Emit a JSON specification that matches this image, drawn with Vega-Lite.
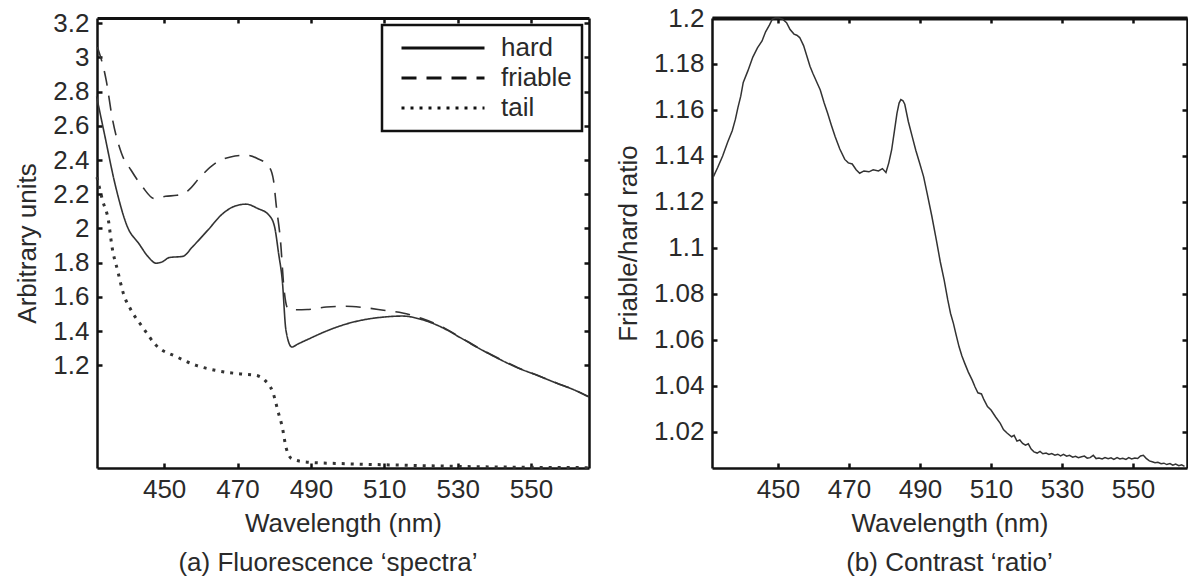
{
  "$schema": "https://vega.github.io/schema/vega-lite/v6.json",
  "background": "white",
  "padding": {"left": 14, "top": 5, "right": 0, "bottom": 0},
  "bounds": "flush",
  "spacing": 123,
  "resolve": {"scale": {"strokeDash": "independent"}, "legend": {"strokeDash": "independent"}},
  "config": {
    "font": "Liberation Sans",
    "view": {"stroke": null},
    "axis": {
      "labelFontSize": 26, "titleFontSize": 26, "titleFontWeight": "normal",
      "labelColor": "#2a2a2a", "titleColor": "#2a2a2a",
      "domainColor": "#111", "tickColor": "#111", "domainWidth": 2.5,
      "tickWidth": 2.5, "tickSize": -5, "labelPadding": 13, "grid": false,
      "labelFont": "Liberation Sans", "titleFont": "Liberation Sans"
    },
    "legend": {
      "title": null, "orient": "top-right", "offset": 7, "symbolType": "stroke",
      "symbolSize": 6889, "symbolStrokeWidth": 3, "symbolStrokeColor": "#111",
      "labelFontSize": 26, "labelColor": "#2a2a2a", "labelFont": "Liberation Sans",
      "clipHeight": 26, "rowPadding": 4, "padding": 10,
      "strokeColor": "#111", "fillColor": "white",
      "symbolOffset": 8, "labelOffset": 15
    },
    "title": {"fontSize": 26, "fontWeight": "normal", "color": "#2a2a2a", "font": "Liberation Sans"}
  },
  "datasets": {
    "spectra": [
      {"series": "hard", "nm": 431.6, "v": 2.77},
      {"series": "hard", "nm": 433.7, "v": 2.555},
      {"series": "hard", "nm": 436.8, "v": 2.243},
      {"series": "hard", "nm": 440.0, "v": 2.009},
      {"series": "hard", "nm": 443.1, "v": 1.912},
      {"series": "hard", "nm": 445.7, "v": 1.833},
      {"series": "hard", "nm": 447.8, "v": 1.797},
      {"series": "hard", "nm": 449.5, "v": 1.805},
      {"series": "hard", "nm": 451.4, "v": 1.83},
      {"series": "hard", "nm": 455.1, "v": 1.837},
      {"series": "hard", "nm": 457.7, "v": 1.892},
      {"series": "hard", "nm": 461.9, "v": 1.99},
      {"series": "hard", "nm": 466.0, "v": 2.087},
      {"series": "hard", "nm": 469.2, "v": 2.13},
      {"series": "hard", "nm": 472.3, "v": 2.142},
      {"series": "hard", "nm": 475.4, "v": 2.118},
      {"series": "hard", "nm": 478.6, "v": 2.077},
      {"series": "hard", "nm": 480.1, "v": 2.01},
      {"series": "hard", "nm": 481.2, "v": 1.853},
      {"series": "hard", "nm": 482.2, "v": 1.697},
      {"series": "hard", "nm": 483.2, "v": 1.405},
      {"series": "hard", "nm": 484.8, "v": 1.307},
      {"series": "hard", "nm": 486.5, "v": 1.325},
      {"series": "hard", "nm": 489.0, "v": 1.35},
      {"series": "hard", "nm": 494.2, "v": 1.4},
      {"series": "hard", "nm": 499.4, "v": 1.44},
      {"series": "hard", "nm": 504.6, "v": 1.467},
      {"series": "hard", "nm": 509.8, "v": 1.482},
      {"series": "hard", "nm": 515.0, "v": 1.488},
      {"series": "hard", "nm": 520.3, "v": 1.467},
      {"series": "hard", "nm": 525.5, "v": 1.424},
      {"series": "hard", "nm": 530.7, "v": 1.362},
      {"series": "hard", "nm": 535.9, "v": 1.298},
      {"series": "hard", "nm": 541.1, "v": 1.239},
      {"series": "hard", "nm": 546.3, "v": 1.186},
      {"series": "hard", "nm": 551.6, "v": 1.142},
      {"series": "hard", "nm": 556.8, "v": 1.097},
      {"series": "hard", "nm": 562.0, "v": 1.054},
      {"series": "hard", "nm": 565.8, "v": 1.015},
      {"series": "friable", "nm": 431.8, "v": 3.06},
      {"series": "friable", "nm": 434.2, "v": 2.867},
      {"series": "friable", "nm": 435.8, "v": 2.652},
      {"series": "friable", "nm": 438.4, "v": 2.438},
      {"series": "friable", "nm": 441.0, "v": 2.34},
      {"series": "friable", "nm": 444.1, "v": 2.243},
      {"series": "friable", "nm": 447.3, "v": 2.175},
      {"series": "friable", "nm": 450.4, "v": 2.188},
      {"series": "friable", "nm": 453.5, "v": 2.194},
      {"series": "friable", "nm": 456.6, "v": 2.223},
      {"series": "friable", "nm": 459.8, "v": 2.3},
      {"series": "friable", "nm": 463.9, "v": 2.38},
      {"series": "friable", "nm": 468.1, "v": 2.418},
      {"series": "friable", "nm": 472.3, "v": 2.428},
      {"series": "friable", "nm": 475.4, "v": 2.409},
      {"series": "friable", "nm": 478.6, "v": 2.36},
      {"series": "friable", "nm": 479.8, "v": 2.282},
      {"series": "friable", "nm": 480.6, "v": 2.126},
      {"series": "friable", "nm": 481.7, "v": 1.931},
      {"series": "friable", "nm": 482.7, "v": 1.64},
      {"series": "friable", "nm": 483.8, "v": 1.53},
      {"series": "friable", "nm": 486.0, "v": 1.525},
      {"series": "friable", "nm": 489.0, "v": 1.526},
      {"series": "friable", "nm": 494.2, "v": 1.541},
      {"series": "friable", "nm": 499.4, "v": 1.545},
      {"series": "friable", "nm": 504.6, "v": 1.537},
      {"series": "friable", "nm": 509.8, "v": 1.522},
      {"series": "friable", "nm": 515.0, "v": 1.506},
      {"series": "friable", "nm": 520.3, "v": 1.473},
      {"series": "friable", "nm": 525.5, "v": 1.428},
      {"series": "friable", "nm": 530.7, "v": 1.365},
      {"series": "friable", "nm": 535.9, "v": 1.3},
      {"series": "friable", "nm": 541.1, "v": 1.241},
      {"series": "friable", "nm": 546.3, "v": 1.188},
      {"series": "friable", "nm": 551.6, "v": 1.143},
      {"series": "friable", "nm": 556.8, "v": 1.098},
      {"series": "friable", "nm": 562.0, "v": 1.055},
      {"series": "friable", "nm": 565.8, "v": 1.016},
      {"series": "tail", "nm": 431.7, "v": 2.3},
      {"series": "tail", "nm": 433.2, "v": 2.165},
      {"series": "tail", "nm": 434.8, "v": 2.048},
      {"series": "tail", "nm": 435.8, "v": 1.892},
      {"series": "tail", "nm": 437.3, "v": 1.756},
      {"series": "tail", "nm": 438.9, "v": 1.619},
      {"series": "tail", "nm": 441.0, "v": 1.522},
      {"series": "tail", "nm": 444.1, "v": 1.424},
      {"series": "tail", "nm": 447.8, "v": 1.317},
      {"series": "tail", "nm": 453.5, "v": 1.249},
      {"series": "tail", "nm": 458.7, "v": 1.2},
      {"series": "tail", "nm": 463.9, "v": 1.171},
      {"series": "tail", "nm": 470.2, "v": 1.151},
      {"series": "tail", "nm": 474.9, "v": 1.142},
      {"series": "tail", "nm": 477.5, "v": 1.112},
      {"series": "tail", "nm": 479.6, "v": 1.044},
      {"series": "tail", "nm": 481.2, "v": 0.918},
      {"series": "tail", "nm": 482.2, "v": 0.839},
      {"series": "tail", "nm": 483.2, "v": 0.722},
      {"series": "tail", "nm": 484.8, "v": 0.654},
      {"series": "tail", "nm": 489.0, "v": 0.634},
      {"series": "tail", "nm": 499.4, "v": 0.625},
      {"series": "tail", "nm": 509.8, "v": 0.619},
      {"series": "tail", "nm": 520.0, "v": 0.614},
      {"series": "tail", "nm": 530.7, "v": 0.609},
      {"series": "tail", "nm": 545.0, "v": 0.605},
      {"series": "tail", "nm": 565.8, "v": 0.602}
    ],
    "ratio": [
      {"nm": 431.8, "r": 1.131}, {"nm": 433.0, "r": 1.135}, {"nm": 434.4, "r": 1.14},
      {"nm": 435.8, "r": 1.146}, {"nm": 437.1, "r": 1.151}, {"nm": 438.0, "r": 1.156},
      {"nm": 438.7, "r": 1.161}, {"nm": 439.5, "r": 1.166}, {"nm": 440.2, "r": 1.172},
      {"nm": 441.5, "r": 1.177}, {"nm": 442.9, "r": 1.183}, {"nm": 444.2, "r": 1.187},
      {"nm": 445.5, "r": 1.19}, {"nm": 446.5, "r": 1.194}, {"nm": 447.6, "r": 1.197},
      {"nm": 448.4, "r": 1.1995}, {"nm": 449.2, "r": 1.2}, {"nm": 450.2, "r": 1.2},
      {"nm": 451.3, "r": 1.1995}, {"nm": 452.4, "r": 1.198}, {"nm": 453.4, "r": 1.195},
      {"nm": 454.5, "r": 1.193}, {"nm": 455.3, "r": 1.1925}, {"nm": 456.1, "r": 1.1915},
      {"nm": 457.2, "r": 1.188}, {"nm": 458.2, "r": 1.183}, {"nm": 459.0, "r": 1.179},
      {"nm": 459.8, "r": 1.176}, {"nm": 460.8, "r": 1.1725}, {"nm": 461.9, "r": 1.1687},
      {"nm": 463.0, "r": 1.163}, {"nm": 464.0, "r": 1.1585}, {"nm": 465.0, "r": 1.1535},
      {"nm": 466.1, "r": 1.1484}, {"nm": 467.4, "r": 1.143}, {"nm": 468.8, "r": 1.1385},
      {"nm": 469.8, "r": 1.137}, {"nm": 470.9, "r": 1.1365}, {"nm": 472.0, "r": 1.134},
      {"nm": 473.0, "r": 1.1325}, {"nm": 474.2, "r": 1.1335}, {"nm": 475.6, "r": 1.1331},
      {"nm": 476.8, "r": 1.134}, {"nm": 478.3, "r": 1.1335}, {"nm": 479.4, "r": 1.1345},
      {"nm": 480.4, "r": 1.1328}, {"nm": 481.2, "r": 1.137}, {"nm": 482.0, "r": 1.1426},
      {"nm": 482.8, "r": 1.151}, {"nm": 483.5, "r": 1.1585}, {"nm": 484.1, "r": 1.163},
      {"nm": 484.6, "r": 1.1645}, {"nm": 485.2, "r": 1.164}, {"nm": 485.7, "r": 1.1625},
      {"nm": 486.7, "r": 1.155}, {"nm": 487.8, "r": 1.1484}, {"nm": 488.8, "r": 1.1425},
      {"nm": 489.9, "r": 1.1368}, {"nm": 491.0, "r": 1.131}, {"nm": 492.0, "r": 1.1237},
      {"nm": 493.3, "r": 1.114}, {"nm": 494.6, "r": 1.1034}, {"nm": 495.7, "r": 1.094},
      {"nm": 496.8, "r": 1.086}, {"nm": 497.8, "r": 1.0775}, {"nm": 498.6, "r": 1.0715},
      {"nm": 499.4, "r": 1.0672}, {"nm": 500.2, "r": 1.062}, {"nm": 501.0, "r": 1.057},
      {"nm": 501.8, "r": 1.053}, {"nm": 502.6, "r": 1.0498}, {"nm": 503.6, "r": 1.046},
      {"nm": 504.7, "r": 1.0425}, {"nm": 505.5, "r": 1.0395}, {"nm": 506.3, "r": 1.037},
      {"nm": 507.3, "r": 1.0365}, {"nm": 508.0, "r": 1.034}, {"nm": 509.0, "r": 1.031},
      {"nm": 510.0, "r": 1.0295}, {"nm": 511.3, "r": 1.0265}, {"nm": 512.6, "r": 1.0237},
      {"nm": 513.5, "r": 1.021}, {"nm": 514.5, "r": 1.0195}, {"nm": 515.8, "r": 1.0179},
      {"nm": 516.5, "r": 1.0185}, {"nm": 517.3, "r": 1.016}, {"nm": 518.1, "r": 1.0165},
      {"nm": 518.9, "r": 1.015}, {"nm": 519.7, "r": 1.0142}, {"nm": 520.5, "r": 1.0148},
      {"nm": 521.3, "r": 1.0125}, {"nm": 522.1, "r": 1.0113}, {"nm": 523.0, "r": 1.0108},
      {"nm": 523.8, "r": 1.0115}, {"nm": 524.6, "r": 1.0105}, {"nm": 525.5, "r": 1.0108},
      {"nm": 526.3, "r": 1.0102}, {"nm": 527.1, "r": 1.0106}, {"nm": 528.0, "r": 1.0099},
      {"nm": 528.8, "r": 1.0103}, {"nm": 529.6, "r": 1.0096}, {"nm": 530.4, "r": 1.0102},
      {"nm": 531.3, "r": 1.0094}, {"nm": 532.1, "r": 1.0098}, {"nm": 533.0, "r": 1.009},
      {"nm": 533.8, "r": 1.0094}, {"nm": 534.6, "r": 1.0088}, {"nm": 535.5, "r": 1.0092},
      {"nm": 536.3, "r": 1.0095}, {"nm": 537.1, "r": 1.0086}, {"nm": 537.9, "r": 1.0088},
      {"nm": 538.8, "r": 1.0098}, {"nm": 539.6, "r": 1.0084}, {"nm": 540.4, "r": 1.0086},
      {"nm": 541.3, "r": 1.0082}, {"nm": 542.1, "r": 1.0088}, {"nm": 543.0, "r": 1.0083},
      {"nm": 543.8, "r": 1.0087}, {"nm": 544.6, "r": 1.008}, {"nm": 545.5, "r": 1.0088},
      {"nm": 546.3, "r": 1.0082}, {"nm": 547.1, "r": 1.0085}, {"nm": 548.0, "r": 1.008},
      {"nm": 548.8, "r": 1.0088}, {"nm": 549.6, "r": 1.0082}, {"nm": 550.5, "r": 1.0086},
      {"nm": 551.3, "r": 1.0084}, {"nm": 552.1, "r": 1.0095}, {"nm": 552.9, "r": 1.0098},
      {"nm": 553.7, "r": 1.0085}, {"nm": 554.6, "r": 1.0074}, {"nm": 555.4, "r": 1.007},
      {"nm": 556.2, "r": 1.0066}, {"nm": 557.0, "r": 1.0068}, {"nm": 557.9, "r": 1.0062},
      {"nm": 558.7, "r": 1.0064}, {"nm": 559.5, "r": 1.0058}, {"nm": 560.4, "r": 1.0062},
      {"nm": 561.2, "r": 1.0055}, {"nm": 562.0, "r": 1.006}, {"nm": 562.9, "r": 1.0053},
      {"nm": 563.7, "r": 1.0057}, {"nm": 564.5, "r": 1.005}
    ]
  },
  "hconcat": [
    {
      "width": 492,
      "height": 450,
      "title": {"text": "(a) Fluorescence ‘spectra’", "orient": "bottom", "offset": 14, "dx": -15},
      "data": {"name": "spectra"},
      "layer": [
        {
          "transform": [{"filter": "datum.series !== 'tail'"}],
          "mark": {"type": "line", "color": "#333", "strokeWidth": 1.6, "interpolate": "monotone"},
          "encoding": {
            "x": {"field": "nm", "type": "quantitative",
                  "scale": {"domain": [431.7, 565.8], "nice": false, "zero": false},
                  "axis": {"values": [450, 470, 490, 510, 530, 550], "title": "Wavelength (nm)", "titlePadding": 8}},
            "y": {"field": "v", "type": "quantitative",
                  "scale": {"domain": [0.6, 3.23], "nice": false, "zero": false},
                  "axis": {"values": [1.2, 1.4, 1.6, 1.8, 2, 2.2, 2.4, 2.6, 2.8, 3, 3.2], "format": "~g", "title": "Arbitrary units", "titlePadding": 12}},
            "strokeDash": {"field": "series", "type": "nominal",
                  "scale": {"domain": ["hard", "friable", "tail"], "range": [[1, 0], [15, 10], [3, 6]]},
                  "legend": {"encode": {"legend": {"update": {"strokeWidth": {"value": 2.5}}}}}}
          }
        },
        {
          "transform": [{"filter": "datum.series === 'tail'"}],
          "mark": {"type": "line", "color": "#333", "strokeWidth": 3, "interpolate": "monotone"},
          "encoding": {
            "x": {"field": "nm", "type": "quantitative", "scale": {"domain": [431.7, 565.8], "nice": false, "zero": false}, "axis": null},
            "y": {"field": "v", "type": "quantitative", "scale": {"domain": [0.6, 3.23], "nice": false, "zero": false}, "axis": null},
            "strokeDash": {"field": "series", "type": "nominal"}
          }
        },
        {
          "mark": {"type": "line", "opacity": 0},
          "encoding": {
            "x": {"field": "nm", "type": "quantitative", "scale": {"domain": [431.7, 565.8], "nice": false, "zero": false},
                  "axis": {"orient": "top", "values": [450, 470, 490, 510, 530, 550], "labels": false, "title": null, "domainWidth": 3}},
            "y": {"field": "v", "type": "quantitative", "scale": {"domain": [0.6, 3.23], "nice": false, "zero": false},
                  "axis": {"orient": "right", "values": [1.2, 1.4, 1.6, 1.8, 2, 2.2, 2.4, 2.6, 2.8, 3, 3.2], "labels": false, "title": null}},
            "detail": {"field": "series", "type": "nominal"}
          }
        }
      ],
      "resolve": {"axis": {"x": "independent", "y": "independent"}}
    },
    {
      "width": 475,
      "height": 450,
      "title": {"text": "(b) Contrast ‘ratio’", "orient": "bottom", "offset": 14},
      "data": {"name": "ratio"},
      "layer": [
        {
          "mark": {"type": "line", "color": "#333", "strokeWidth": 1.5},
          "encoding": {
            "x": {"field": "nm", "type": "quantitative",
                  "scale": {"domain": [431.4, 565.2], "nice": false, "zero": false},
                  "axis": {"values": [450, 470, 490, 510, 530, 550], "title": "Wavelength (nm)", "titlePadding": 8}},
            "y": {"field": "r", "type": "quantitative",
                  "scale": {"domain": [1.0043, 1.2], "nice": false, "zero": false},
                  "axis": {"values": [1.02, 1.04, 1.06, 1.08, 1.1, 1.12, 1.14, 1.16, 1.18, 1.2], "format": "~g", "title": "Friable/hard ratio", "titlePadding": 12}}
          }
        },
        {
          "mark": {"type": "line", "opacity": 0},
          "encoding": {
            "x": {"field": "nm", "type": "quantitative", "scale": {"domain": [431.4, 565.2], "nice": false, "zero": false},
                  "axis": {"orient": "top", "values": [450, 470, 490, 510, 530, 550], "labels": false, "title": null, "domainWidth": 4}},
            "y": {"field": "r", "type": "quantitative", "scale": {"domain": [1.0043, 1.2], "nice": false, "zero": false},
                  "axis": {"orient": "right", "values": [1.02, 1.04, 1.06, 1.08, 1.1, 1.12, 1.14, 1.16, 1.18, 1.2], "labels": false, "title": null}}
          }
        }
      ],
      "resolve": {"axis": {"x": "independent", "y": "independent"}}
    }
  ]
}
